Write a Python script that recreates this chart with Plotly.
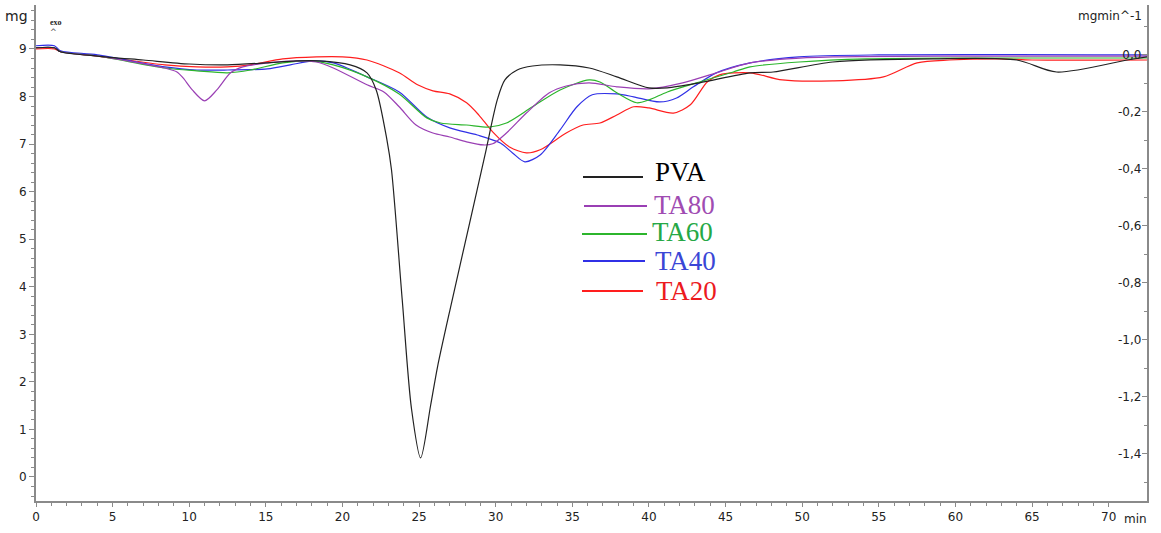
import plotly.graph_objects as go

# ---- data (time in min, heat flow in mg min^-1) ----
t_pva = [0, 1.2, 1.6, 4, 7, 10, 12.5, 15, 17, 18.5, 20.5, 21.6, 22.2, 22.9, 23.2, 23.9, 24.5,
         25.1, 25.75, 26.2, 27.1, 28.3, 29.3, 30.1, 30.6, 31.4, 32.4, 34.2, 36.1, 37.9, 40.0,
         41.2, 43.3, 46.6, 48.1, 52.0, 58.5, 64.0, 66.6, 71.2, 72.5]
v_pva = [0.025, 0.025, 0.011, -0.004, -0.018, -0.032, -0.035, -0.028, -0.021, -0.021, -0.035, -0.063,
         -0.123, -0.298, -0.404, -0.860, -1.240, -1.414, -1.230, -1.095,
         -0.874, -0.589, -0.351, -0.158, -0.088, -0.053, -0.039, -0.035, -0.046, -0.077, -0.116, -0.116,
         -0.098, -0.063, -0.060, -0.025, -0.014, -0.018, -0.060, -0.018, -0.007]

t_ta80 = [0, 1.2, 1.6, 4, 8.4, 9.2, 9.6, 10.2, 11.0, 11.8, 12.7, 13.5, 15.1, 17.2, 18.3, 19.4, 21.6, 22.7,
          23.7, 24.8, 25.9, 27.0, 28.1, 29.2, 29.8, 30.7, 32.0, 33.5, 34.6, 36.1, 37.9, 40.0, 42.2, 44.4,
          46.6, 49, 52, 60, 72.5]
v_ta80 = [0.025, 0.025, 0.011, -0.004, -0.046, -0.060, -0.081, -0.123, -0.161, -0.123, -0.063, -0.042,
          -0.028, -0.021, -0.025, -0.046, -0.105, -0.130, -0.182, -0.246, -0.274, -0.288, -0.305, -0.316,
          -0.312, -0.274, -0.204, -0.133, -0.109, -0.098, -0.112, -0.119, -0.098, -0.063, -0.028, -0.014,
          -0.007, -0.004, -0.004]

t_ta60 = [0, 1.2, 1.6, 4, 8.4, 10.5, 12.5, 14, 16.1, 17.9, 19.4, 21.6, 23.7, 25.5, 26.4, 28.1, 29.6, 30.7,
          32.4, 34.2, 36.1, 36.8, 37.9, 39.2, 40.0, 41.2, 43.3, 45.5, 46.6, 49.8, 54.2, 60, 72.5]
v_ta60 = [0.025, 0.025, 0.011, -0.004, -0.046, -0.056, -0.063, -0.053, -0.028, -0.021, -0.035, -0.077,
          -0.137, -0.221, -0.239, -0.246, -0.253, -0.239, -0.182, -0.123, -0.088, -0.095, -0.133, -0.168,
          -0.158, -0.130, -0.095, -0.060, -0.042, -0.025, -0.014, -0.011, -0.011]

t_ta40 = [0, 1.2, 1.6, 4, 8.4, 10.5, 12.5, 15.1, 16.6, 18.1, 19.4, 21.6, 23.7, 25.5, 27.0, 28.8, 30.3, 31.1,
          31.9, 32.9, 34.2, 35.3, 36.3, 37.9, 39.0, 40.7, 41.8, 42.9, 44.4, 46.6, 49.8, 55, 72.5]
v_ta40 = [0.032, 0.032, 0.014, 0.000, -0.042, -0.053, -0.053, -0.049, -0.035, -0.021, -0.028, -0.077,
          -0.130, -0.218, -0.256, -0.281, -0.309, -0.344, -0.375, -0.351, -0.263, -0.182, -0.140, -0.137,
          -0.147, -0.165, -0.151, -0.112, -0.063, -0.028, -0.007, 0.000, 0.000]

t_ta20 = [0, 1.2, 1.6, 4, 8.4, 10.5, 12.5, 14, 16.1, 18.3, 20, 21.6, 23.7, 24.9, 25.9, 27.0, 28.1, 28.9,
          29.8, 30.9, 32.0, 32.9, 34.6, 35.7, 36.8, 37.9, 39.0, 40.0, 41.6, 42.7, 43.8, 44.6, 46.6, 48.7,
          52, 55.3, 57.5, 59.6, 62.9, 65, 72.5]
v_ta20 = [0.021, 0.021, 0.011, -0.004, -0.035, -0.042, -0.042, -0.035, -0.014, -0.007, -0.007, -0.018,
          -0.063, -0.105, -0.126, -0.137, -0.168, -0.211, -0.270, -0.323, -0.344, -0.333, -0.274, -0.246,
          -0.239, -0.211, -0.182, -0.186, -0.204, -0.175, -0.095, -0.070, -0.063, -0.088, -0.091, -0.077,
          -0.028, -0.018, -0.014, -0.018, -0.018]

series_names = ["PVA", "TA80", "TA60", "TA40", "TA20"]

x_tick_vals = list(range(0, 71, 5))
x_tick_labels = [str(v) for v in x_tick_vals]
left_tick_vals = list(range(0, 10))
left_tick_labels = [str(v) for v in left_tick_vals]
right_tick_vals = [0.0, -0.2, -0.4, -0.6, -0.8, -1.0, -1.2, -1.4]
right_tick_labels = ["0,0", "-0,2", "-0,4", "-0,6", "-0,8", "-1,0", "-1,2", "-1,4"]

# ---- style ----
W, H = 1161, 533
L, R, T, B = 36, 14, 5, 32
PW, PH = W - L - R, H - T - B
line_colors = {"PVA": "#222222", "TA80": "#9a3fb4", "TA60": "#2cb52c", "TA40": "#3030e6", "TA20": "#ff1e1e"}
text_colors = {"PVA": "#000000", "TA80": "#a04cb2", "TA60": "#26a846", "TA40": "#3a46d6", "TA20": "#ec1a1e"}
axis_col = "#8a8a8a"
tick_font = dict(family="DejaVu Sans", size=12, color="#222222")


def px(x):
    return (x - L) / PW


def py(y):
    return (H - B - y) / PH


data = {
    "PVA": (t_pva, v_pva),
    "TA80": (t_ta80, v_ta80),
    "TA60": (t_ta60, v_ta60),
    "TA40": (t_ta40, v_ta40),
    "TA20": (t_ta20, v_ta20),
}

fig = go.Figure()
# empty trace so the left (mg) axis is drawn
fig.add_trace(go.Scatter(x=[], y=[], yaxis="y", mode="lines", showlegend=False, hoverinfo="skip"))
for name in ["TA20", "TA40", "TA60", "TA80", "PVA"]:
    t, v = data[name]
    fig.add_trace(go.Scatter(x=t, y=v, mode="lines", name=name, yaxis="y2",
                             line=dict(color=line_colors[name], width=1.2, shape="spline", smoothing=0.8),
                             showlegend=False, hoverinfo="skip"))

fig.update_layout(
    width=W, height=H,
    margin=dict(l=L, r=R, t=T, b=B, pad=0),
    paper_bgcolor="white", plot_bgcolor="white",
    showlegend=False,
    xaxis=dict(range=[0, 72.5], showgrid=False, zeroline=False,
               showline=True, linecolor=axis_col, linewidth=2,
               tickvals=x_tick_vals, ticktext=x_tick_labels,
               ticks="outside", ticklen=4, tickcolor=axis_col, tickwidth=1,
               minor=dict(dtick=1, ticks="outside", ticklen=3, tickcolor=axis_col),
               tickfont=tick_font),
    yaxis=dict(range=[-0.505, 9.925], showgrid=False, zeroline=False,
               showline=True, linecolor=axis_col, linewidth=2,
               tickvals=left_tick_vals, ticktext=left_tick_labels,
               ticks="outside", ticklen=5, tickcolor=axis_col, tickwidth=1,
               minor=dict(dtick=0.2, tick0=0, ticks="outside", ticklen=3, tickcolor=axis_col),
               tickfont=tick_font),
    yaxis2=dict(range=[-1.565, 0.175], overlaying="y", side="right", anchor="x",
                showgrid=False, zeroline=False,
                showline=True, linecolor=axis_col, linewidth=2,
                tickvals=right_tick_vals, ticktext=right_tick_labels,
                ticks="inside", ticklen=5, tickcolor=axis_col, tickwidth=1,
                ticklabelposition="inside",
                minor=dict(dtick=0.1, tick0=0, ticks="inside", ticklen=3, tickcolor=axis_col),
                tickfont=tick_font),
)

# axis titles and markers
fig.add_annotation(text="mg", x=px(16), y=py(16), xref="paper", yref="paper", showarrow=False,
                   font=dict(family="DejaVu Sans", size=14, color="#222"), xanchor="center", yanchor="middle")
fig.add_annotation(text="mgmin^-1", x=px(1110), y=py(16), xref="paper", yref="paper", showarrow=False,
                   font=dict(family="DejaVu Sans", size=12, color="#222"), xanchor="center", yanchor="middle")
fig.add_annotation(text="min", x=px(1135), y=py(519), xref="paper", yref="paper", showarrow=False,
                   font=dict(family="DejaVu Sans", size=12, color="#222"), xanchor="center", yanchor="middle")
fig.add_annotation(text="<b>exo</b>", x=px(56), y=py(22), xref="paper", yref="paper", showarrow=False,
                   font=dict(family="Liberation Serif", size=8, color="#222"), xanchor="center", yanchor="middle")
fig.add_annotation(text="^", x=px(53), y=py(33), xref="paper", yref="paper", showarrow=False,
                   font=dict(family="DejaVu Sans", size=8, color="#555"), xanchor="center", yanchor="middle")

# custom legend
leg = [("PVA", 583, 643, 177, 653, 172),
       ("TA80", 584, 647, 206, 652, 205),
       ("TA60", 582, 647, 234, 650, 232),
       ("TA40", 583, 645, 261, 653, 261),
       ("TA20", 582, 643, 291, 654, 291)]
for name, x0, x1, yl, xt, yt in leg:
    fig.add_shape(type="line", xref="paper", yref="paper", x0=px(x0), x1=px(x1), y0=py(yl), y1=py(yl),
                  line=dict(color=line_colors[name], width=2))
    fig.add_annotation(text=name, x=px(xt), y=py(yt), xref="paper", yref="paper", showarrow=False,
                       xanchor="left", yanchor="middle",
                       font=dict(family="Liberation Serif", size=27, color=text_colors[name]))

fig.write_html("out.html")
